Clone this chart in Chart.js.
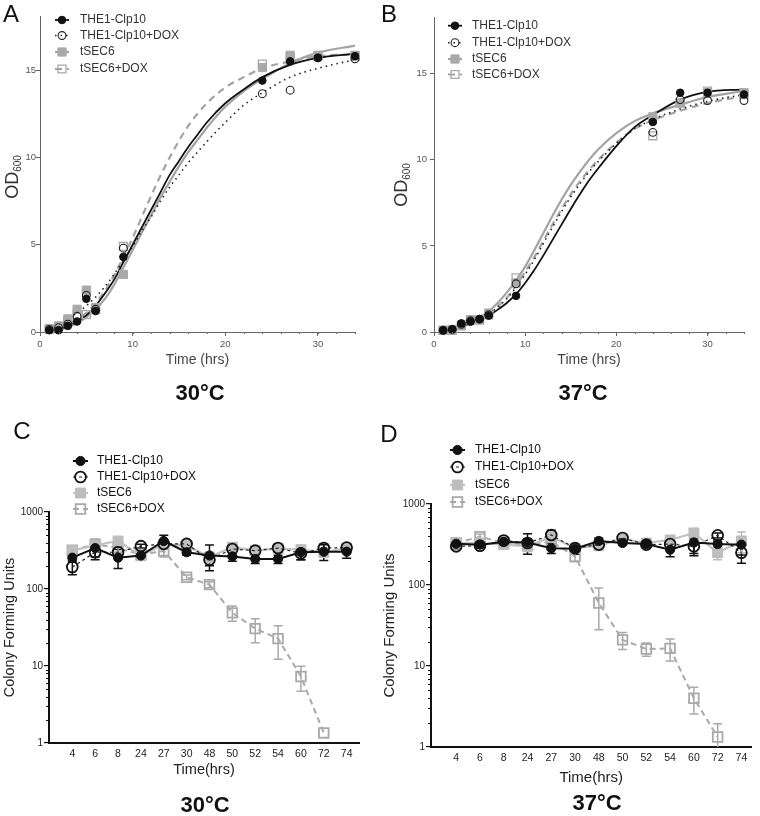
<!DOCTYPE html>
<html><head><meta charset="utf-8">
<script src="https://cdn.jsdelivr.net/npm/chart.js@4.4.1/dist/chart.umd.min.js"></script>
<style>
html,body{margin:0;padding:0;background:#fff;}
#wrap{position:relative;width:760px;height:816px;overflow:hidden;font-family:"Liberation Sans",Arial,Helvetica,sans-serif;}
canvas{position:absolute;}
.lbl{position:absolute;transform:translate(-50%,-50%);white-space:nowrap;line-height:1;z-index:2;}
.letter{font-size:24px;color:#111;}
.temp{font-size:22px;font-weight:bold;color:#111;}
.od{position:absolute;transform:translate(-50%,-50%) rotate(-90deg);white-space:nowrap;font-size:18px;color:#333;line-height:1;z-index:2;}
.od sub{font-size:10px;vertical-align:-3px;}
</style></head>
<body><div id="wrap">
<canvas id="cA" width="380" height="380" style="left:0;top:0"></canvas>
<canvas id="cB" width="380" height="380" style="left:380px;top:0"></canvas>
<canvas id="cC" width="380" height="416" style="left:0;top:400px"></canvas>
<canvas id="cD" width="380" height="416" style="left:380px;top:400px"></canvas>
<div class="lbl letter" style="left:11px;top:14px">A</div>
<div class="lbl letter" style="left:389px;top:14px">B</div>
<div class="lbl letter" style="left:22px;top:431px">C</div>
<div class="lbl letter" style="left:389px;top:434px">D</div>
<div class="lbl temp" style="left:200px;top:393px">30°C</div>
<div class="lbl temp" style="left:583px;top:393px">37°C</div>
<div class="lbl temp" style="left:205px;top:805px">30°C</div>
<div class="lbl temp" style="left:597px;top:803px">37°C</div>
<div class="od" style="left:13px;top:177px">OD<sub>600</sub></div>
<div class="od" style="left:402px;top:185px">OD<sub>600</sub></div>
</div>
<script>
// ---------- DATA ----------
const seriesNames = ['THE1-Clp10', 'THE1-Clp10+DOX', 'tSEC6', 'tSEC6+DOX'];

// Growth curves (OD600), measured points
const odTimes = [1, 2, 3, 4, 5, 6, 9, 24, 27, 30, 34];
const odA_clp10    = [0.1, 0.1, 0.35, 0.6, 1.9, 1.2, 4.3, 14.4, 15.5, 15.7, 15.8];
const odA_clp10dox = [0.15, 0.25, 0.45, 0.9, 2.1, 1.3, 4.8, 13.65, 13.85, 15.7, 15.65];
const odA_tsec6    = [0.2, 0.35, 0.75, 1.3, 2.4, 1.4, 3.3, 15.15, 15.85, 15.85, 15.85];
const odA_tsec6dox = [0.15, 0.3, 0.6, 1.0, 1.0, 1.3, 4.9, 15.35, 15.75, 15.8, 15.8];

const odB_clp10    = [0.1, 0.15, 0.5, 0.6, 0.75, 0.95, 2.1, 12.2, 13.9, 13.9, 13.8];
const odB_clp10dox = [0.1, 0.15, 0.45, 0.65, 0.75, 1.0, 2.8, 11.6, 13.5, 13.45, 13.45];
const odB_tsec6    = [0.1, 0.15, 0.35, 0.7, 0.7, 1.1, 2.85, 12.5, 13.3, 13.9, 13.9];
const odB_tsec6dox = [0.1, 0.1, 0.4, 0.7, 0.7, 1.0, 3.15, 11.4, 13.3, 14.0, 13.8];

// Fitted curves, values
const fitTimes = [1, 2, 3, 4, 5, 6, 7, 8, 9, 10, 11, 12, 13, 14, 15, 16, 17, 18, 20, 22, 24, 27, 30, 34];
const fitA_clp10    = [0.05, 0.15, 0.35, 0.6, 0.95, 1.5, 2.2, 3.0, 4.0, 5.0, 6.0, 7.0, 8.0, 9.0, 9.8, 10.6, 11.3, 12.0, 13.1, 13.9, 14.6, 15.3, 15.7, 15.95];
const fitA_clp10dox = [0.3, 0.5, 0.75, 1.1, 1.5, 2.0, 2.6, 3.3, 4.1, 4.9, 5.8, 6.6, 7.5, 8.3, 9.0, 9.7, 10.3, 10.9, 12.0, 13.0, 13.7, 14.6, 15.1, 15.6];
const fitA_tsec6    = [0.05, 0.12, 0.28, 0.5, 0.85, 1.3, 1.9, 2.7, 3.7, 4.7, 5.7, 6.7, 7.7, 8.6, 9.5, 10.3, 11.0, 11.7, 12.9, 13.8, 14.5, 15.4, 16.0, 16.4];
const fitA_tsec6dox = [0.1, 0.2, 0.4, 0.7, 1.1, 1.65, 2.35, 3.25, 4.3, 5.4, 6.6, 7.8, 8.95, 10.0, 10.95, 11.8, 12.5, 13.1, 14.0, 14.6, 15.1, 15.5, 15.8, 15.9];

const fitB_clp10    = [0.2, 0.25, 0.35, 0.5, 0.7, 0.95, 1.3, 1.7, 2.2, 2.85, 3.6, 4.45, 5.35, 6.25, 7.15, 8.0, 8.8, 9.5, 10.8, 11.9, 12.6, 13.5, 13.95, 14.1];
const fitB_clp10dox = [0.15, 0.2, 0.35, 0.5, 0.75, 1.05, 1.45, 1.95, 2.6, 3.35, 4.2, 5.15, 6.1, 7.0, 7.85, 8.6, 9.3, 9.9, 10.95, 11.8, 12.35, 12.95, 13.4, 13.8];
const fitB_tsec6    = [0.15, 0.25, 0.4, 0.6, 0.85, 1.2, 1.7, 2.3, 3.0, 3.8, 4.75, 5.75, 6.75, 7.7, 8.55, 9.3, 10.0, 10.6, 11.55, 12.25, 12.7, 13.2, 13.65, 14.0];
const fitB_tsec6dox = [0.12, 0.2, 0.35, 0.5, 0.75, 1.05, 1.5, 2.0, 2.7, 3.5, 4.35, 5.3, 6.25, 7.15, 8.0, 8.75, 9.4, 10.0, 11.0, 11.8, 12.3, 12.85, 13.3, 13.7];

const odTickLabels = [0, 5, 10, 15];
const timeTickLabels = [0, 10, 20, 30];

// Colony forming units
const cfuTimeLabels = ['4', '6', '8', '24', '27', '30', '48', '50', '52', '54', '60', '72', '74'];
const cfuTickLabels = [1, 10, 100, 1000];

const cfuC_clp10        = [255, 340, 255, 272, 420, 300, 272, 265, 245, 245, 300, 305, 305];
const cfuC_clp10_err    = [30, 100, 70, 25, 80, 25, 100, 35, 30, 30, 60, 70, 55];
const cfuC_clp10dox     = [193, 300, 300, 360, 385, 385, 240, 330, 315, 340, 290, 340, 345];
const cfuC_clp10dox_err = [40, 40, 50, 20, 50, 20, 40, 60, 30, 40, 50, 40, 30];
const cfuC_tsec6        = [315, 370, 420, 270, 380, 365, 260, 350, 318, 335, 325, 300, 340];
const cfuC_tsec6_err    = [20, 40, 30, 20, 40, 20, 40, 50, 30, 40, 30, 40, 20];
const cfuC_tsec6dox     = [318, 380, 340, 280, 312, 142, 114, 49, 30.6, 22.7, 7.3, 1.35, null];
const cfuC_tsec6dox_err = [30, 40, 40, 20, 52, 10, 10, 11, 10.5, 10.5, 2.6, 0, null];

const cfuD_clp10        = [323, 315, 340, 335, 285, 280, 350, 330, 320, 273, 335, 320, 315];
const cfuD_clp10_err    = [20, 20, 30, 95, 40, 40, 30, 20, 20, 50, 90, 30, 80];
const cfuD_clp10dox     = [300, 305, 355, 330, 415, 285, 315, 380, 315, 320, 300, 410, 250];
const cfuD_clp10dox_err = [20, 20, 30, 40, 60, 30, 30, 30, 20, 50, 70, 30, 65];
const cfuD_tsec6        = [330, 330, 315, 300, 395, 285, 305, 370, 330, 360, 440, 250, 350];
const cfuD_tsec6_err    = [20, 20, 30, 40, 60, 30, 20, 30, 20, 40, 40, 45, 100];
const cfuD_tsec6dox     = [330, 395, 330, 315, 345, 225, 60, 21, 16.2, 16.5, 4.0, 1.33, null];
const cfuD_tsec6dox_err = [20, 30, 30, 30, 40, 30, 32, 5, 3, 5, 1.45, 0.6, null];

// ---------- STYLES ----------
const FONT = '"Liberation Sans", Arial, Helvetica, sans-serif';
Chart.defaults.font.family = FONT;

const STY_OD = [
  {pt: 'circle', r: 3.8, fill: '#111', stroke: '#111', lw: 1, line: '#111', lwid: 1.8, dash: []},
  {pt: 'circle', r: 3.9, fill: null, stroke: '#222', lw: 1.1, line: '#222', lwid: 1.6, dash: [1.5, 4]},
  {pt: 'rect', r: 5.8, fill: '#a9a9a9', stroke: '#a9a9a9', lw: 1, line: '#a3a3a3', lwid: 2.2, dash: []},
  {pt: 'rect', r: 5.6, fill: null, stroke: '#a9a9a9', lw: 1.3, line: '#a3a3a3', lwid: 2.2, dash: [7, 5]}
];
const STY_CFU = [
  {pt: 'circle', r: 4.6, fill: '#111', stroke: '#111', lw: 1, line: '#111', lwid: 2, dash: [], err: '#111'},
  {pt: 'circle', r: 5.4, fill: null, stroke: '#111', lw: 1.8, line: '#222', lwid: 1.2, dash: [3, 3], err: '#111'},
  {pt: 'rect', r: 7, fill: '#bdbdbd', stroke: '#bdbdbd', lw: 1, line: '#c2c2c2', lwid: 2.2, dash: [], err: '#bbbbbb'},
  {pt: 'rect', r: 6.8, fill: null, stroke: '#a9a9a9', lw: 1.8, line: '#a9a9a9', lwid: 2, dash: [6, 4], err: '#aaaaaa'}
];

function drawMarker(ctx, s, x, y) {
  ctx.save();
  ctx.setLineDash([]);
  ctx.beginPath();
  if (s.pt === 'circle') ctx.arc(x, y, s.r, 0, Math.PI * 2);
  else { const h = s.r * Math.SQRT1_2; ctx.rect(x - h, y - h, 2 * h, 2 * h); }
  if (s.fill) { ctx.fillStyle = s.fill; ctx.fill(); }
  if (s.lw) { ctx.lineWidth = s.lw; ctx.strokeStyle = s.stroke; ctx.stroke(); }
  ctx.restore();
}

const overlayPlugin = {
  id: 'overlay',
  beforeDatasetsDraw(chart, args, opts) {
    const ctx = chart.ctx, xs = chart.scales.x, ys = chart.scales.y;
    (opts.errors || []).forEach(e => {
      const ds = chart.data.datasets[e.ds];
      ctx.save();
      ctx.strokeStyle = e.color; ctx.lineWidth = e.width; ctx.setLineDash([]);
      ctx.beginPath();
      ds.data.forEach((p, i) => {
        const err = e.err[i];
        if (p.y == null || err == null || err <= 0) return;
        const px = xs.getPixelForValue(p.x);
        const top = ys.getPixelForValue(p.y + err);
        const lo = p.y - err;
        const bot = ys.getPixelForValue(Math.max(lo, ys.min));
        ctx.moveTo(px, top); ctx.lineTo(px, bot);
        ctx.moveTo(px - e.cap, top); ctx.lineTo(px + e.cap, top);
        if (lo > ys.min) { ctx.moveTo(px - e.cap, bot); ctx.lineTo(px + e.cap, bot); }
      });
      ctx.stroke();
      ctx.restore();
    });
  },
  afterDraw(chart, args, opts) {
    const ctx = chart.ctx, ca = chart.chartArea;
    if (opts.minorX) {
      const m = opts.minorX, xs = chart.scales.x;
      ctx.save(); ctx.strokeStyle = m.color; ctx.lineWidth = 1; ctx.beginPath();
      for (let v = m.from; v <= m.to + 1e-9; v += m.step) {
        const px = Math.round(xs.getPixelForValue(v)) + 0.5;
        ctx.moveTo(px, ca.bottom); ctx.lineTo(px, ca.bottom + m.len);
      }
      ctx.stroke(); ctx.restore();
    }
    if (opts.minorLogY) {
      const m = opts.minorLogY, ys = chart.scales.y;
      ctx.save(); ctx.strokeStyle = m.color; ctx.lineWidth = 1; ctx.beginPath();
      for (let d = ys.min; d < ys.max; d *= 10) {
        for (let k = 2; k <= 9; k++) {
          const py = Math.round(ys.getPixelForValue(d * k)) + 0.5;
          ctx.moveTo(ca.left, py); ctx.lineTo(ca.left - m.len, py);
        }
      }
      ctx.stroke(); ctx.restore();
    }
    const lg = opts.legend;
    if (lg) {
      lg.styles.forEach((s, i) => {
        const y = lg.ys[i];
        ctx.save();
        ctx.strokeStyle = s.line; ctx.lineWidth = s.lwid; ctx.setLineDash(s.dash);
        ctx.beginPath(); ctx.moveTo(lg.x0, y); ctx.lineTo(lg.x1, y); ctx.stroke();
        ctx.restore();
        drawMarker(ctx, s, (lg.x0 + lg.x1) / 2, y);
        ctx.save();
        ctx.fillStyle = lg.color; ctx.font = lg.font;
        ctx.textBaseline = 'middle'; ctx.textAlign = 'left';
        ctx.fillText(seriesNames[i], lg.tx, y);
        ctx.restore();
      });
    }
  }
};

function pts(xs, ys) { return xs.map((x, i) => ({x: x, y: ys[i]})); }

function odChart(id, cfg) {
  const W = 380, H = 380, xH = 37;
  const datasets = [];
  cfg.points.forEach((ys, k) => {
    const s = STY_OD[k];
    datasets.push({data: pts(odTimes, ys), showLine: false, pointStyle: s.pt, pointRadius: s.r,
      pointHoverRadius: s.r, pointBackgroundColor: s.fill || 'rgba(0,0,0,0)', pointBorderColor: s.stroke,
      pointBorderWidth: s.lw, clip: false, order: k});
  });
  cfg.fits.forEach((ys, k) => {
    const s = STY_OD[k];
    datasets.push({data: pts(fitTimes, ys), showLine: true, pointRadius: 0, pointHoverRadius: 0,
      borderColor: s.line, borderWidth: s.lwid, borderDash: s.dash, cubicInterpolationMode: 'monotone',
      fill: false, clip: false, order: 10 + k});
  });
  const a = cfg.area;
  return new Chart(document.getElementById(id), {
    type: 'scatter',
    data: {datasets},
    plugins: [overlayPlugin],
    options: {
      responsive: false, animation: false, devicePixelRatio: 1,
      layout: {padding: {left: 0, top: a.top, right: W - a.right, bottom: H - a.bottom - xH}},
      plugins: {
        legend: {display: false}, tooltip: {enabled: false},
        overlay: {
          minorX: {from: 0, to: 34, step: 2, len: 2, color: '#666'},
          legend: {x0: cfg.lg.x0, x1: cfg.lg.x1, tx: cfg.lg.tx, ys: cfg.lg.ys, styles: STY_OD,
            color: '#333', font: '12px ' + FONT}
        }
      },
      scales: {
        x: {type: 'linear', min: 0, max: 34,
          afterBuildTicks: s => { s.ticks = timeTickLabels.map(v => ({value: v})); },
          afterFit: s => { s.height = xH; },
          grid: {display: true, drawOnChartArea: false, drawTicks: true, tickLength: 4, color: '#666'},
          border: {display: true, color: '#666', width: 1},
          ticks: {color: '#555', font: {size: 9.5}, padding: 3, maxRotation: 0, autoSkip: false, callback: v => String(v)},
          title: {display: true, text: 'Time (hrs)', color: '#444', font: {size: 14}, padding: 0}
        },
        y: {type: 'linear', min: 0, max: cfg.yMax,
          afterBuildTicks: s => { s.ticks = odTickLabels.map(v => ({value: v})); },
          afterFit: s => { s.width = a.left; },
          grid: {display: true, drawOnChartArea: false, drawTicks: true, tickLength: 4, color: '#666'},
          border: {display: true, color: '#666', width: 1},
          ticks: {color: '#555', font: {size: 9.5}, padding: cfg.yPad, autoSkip: false, callback: v => String(v)}
        }
      }
    }
  });
}

function cfuChart(id, cfg) {
  const W = 380, H = 416;
  const a = cfg.area;
  const datasets = cfg.series.map((vals, k) => {
    const s = STY_CFU[k];
    return {data: cfuTimeLabels.map((_, i) => ({x: i, y: vals[i]})), showLine: true, tension: 0,
      borderColor: s.line, borderWidth: s.lwid, borderDash: s.dash, spanGaps: false,
      pointStyle: s.pt, pointRadius: s.r, pointHoverRadius: s.r,
      pointBackgroundColor: s.fill || 'rgba(0,0,0,0)', pointBorderColor: s.stroke, pointBorderWidth: s.lw,
      clip: false, order: k, fill: false};
  });
  const errors = cfg.errs.map((e, k) => ({ds: k, err: e, color: STY_CFU[k].err, width: 1.5, cap: 4.5}));
  return new Chart(document.getElementById(id), {
    type: 'scatter',
    data: {datasets},
    plugins: [overlayPlugin],
    options: {
      responsive: false, animation: false, devicePixelRatio: 1,
      layout: {padding: {left: 0, top: a.top, right: W - a.right, bottom: H - a.bottom - cfg.xH}},
      plugins: {
        legend: {display: false}, tooltip: {enabled: false},
        overlay: {
          errors: errors,
          minorLogY: {len: 3, color: '#111'},
          legend: {x0: cfg.lg.x0, x1: cfg.lg.x1, tx: cfg.lg.tx, ys: cfg.lg.ys, styles: STY_CFU,
            color: '#111', font: '12px ' + FONT}
        }
      },
      scales: {
        x: {type: 'linear', min: cfg.xMin, max: cfg.xMax,
          afterBuildTicks: s => { s.ticks = cfuTimeLabels.map((_, i) => ({value: i})); },
          afterFit: s => { s.height = cfg.xH; },
          grid: {display: false, drawTicks: false},
          border: {display: true, color: '#111', width: 2},
          ticks: {color: '#222', font: {size: 10.5}, padding: 5, maxRotation: 0, autoSkip: false,
            callback: v => cfuTimeLabels[Math.round(v)]},
          title: {display: true, text: 'Time(hrs)', color: '#222', font: {size: cfg.tSize}, padding: 0}
        },
        y: {type: 'logarithmic', min: 1, max: 1000,
          afterBuildTicks: s => { s.ticks = cfuTickLabels.map(v => ({value: v})); },
          afterFit: s => { s.width = a.left; },
          grid: {display: true, drawOnChartArea: false, drawTicks: true, tickLength: 5, color: '#111', lineWidth: 1.2},
          border: {display: true, color: '#111', width: 2},
          ticks: {color: '#222', font: {size: 10}, padding: 1, autoSkip: false, callback: v => String(v)},
          title: {display: true, text: 'Colony Forming Units', color: '#222', font: {size: cfg.tSize}, padding: {top: 1, bottom: 0}}
        }
      }
    }
  });
}

odChart('cA', {
  points: [odA_clp10, odA_clp10dox, odA_tsec6, odA_tsec6dox],
  fits: [fitA_clp10, fitA_clp10dox, fitA_tsec6, fitA_tsec6dox],
  area: {left: 40, right: 355, top: 16, bottom: 332}, yMax: 18.1, yPad: 0,
  lg: {x0: 55, x1: 69, tx: 80, ys: [20, 35.5, 52, 69]}
});
odChart('cB', {
  points: [odB_clp10, odB_clp10dox, odB_tsec6, odB_tsec6dox],
  fits: [fitB_clp10, fitB_clp10dox, fitB_tsec6, fitB_tsec6dox],
  area: {left: 54, right: 364, top: 17, bottom: 332}, yMax: 18.3, yPad: 3,
  lg: {x0: 68, x1: 82, tx: 92, ys: [25.7, 42.7, 59, 74.5]}
});
cfuChart('cC', {
  series: [cfuC_clp10, cfuC_clp10dox, cfuC_tsec6, cfuC_tsec6dox],
  errs: [cfuC_clp10_err, cfuC_clp10dox_err, cfuC_tsec6_err, cfuC_tsec6dox_err],
  area: {left: 49, right: 359, top: 112, bottom: 343}, xMin: -1.02, xMax: 12.54, xH: 36, tSize: 14.5,
  lg: {x0: 73, x1: 88, tx: 97, ys: [61, 77, 93, 109]}
});
cfuChart('cD', {
  series: [cfuD_clp10, cfuD_clp10dox, cfuD_tsec6, cfuD_tsec6dox],
  errs: [cfuD_clp10_err, cfuD_clp10dox_err, cfuD_tsec6_err, cfuD_tsec6dox_err],
  area: {left: 51, right: 378, top: 104, bottom: 347}, xMin: -1.06, xMax: 12.42, xH: 40, tSize: 15,
  lg: {x0: 70, x1: 85, tx: 95, ys: [50, 67, 85, 102]}
});
</script>
</body></html>
